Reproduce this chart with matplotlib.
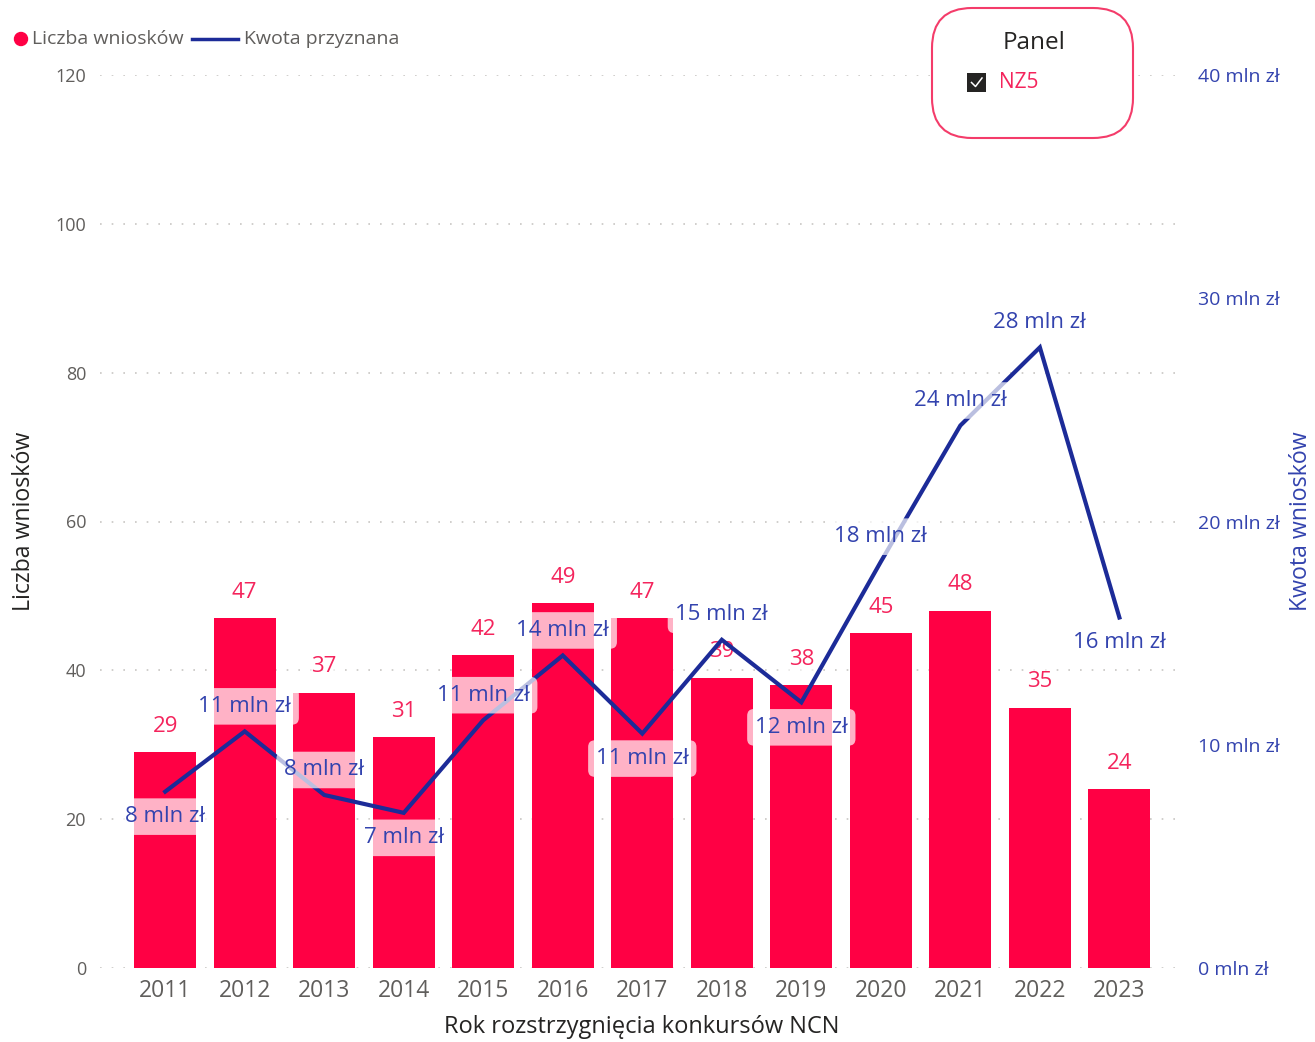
import matplotlib
matplotlib.use("Agg")
import matplotlib.pyplot as plt
from matplotlib.patches import FancyBboxPatch, Circle, Rectangle
from matplotlib.lines import Line2D
import numpy as np

plt.rcParams['font.family'] = ['Open Sans', 'DejaVu Sans']

years = ["2011", "2012", "2013", "2014", "2015", "2016", "2017",
         "2018", "2019", "2020", "2021", "2022", "2023"]
counts = [29, 47, 37, 31, 42, 49, 47, 39, 38, 45, 48, 35, 24]
amounts = [7.9, 10.6, 7.75, 6.95, 11.1, 14.0, 10.5, 14.7, 11.9, 18.2, 24.3, 27.8, 15.7]
amount_labels = ["8 mln zł", "11 mln zł", "8 mln zł", "7 mln zł", "11 mln zł",
                 "14 mln zł", "11 mln zł", "15 mln zł", "12 mln zł", "18 mln zł",
                 "24 mln zł", "28 mln zł", "16 mln zł"]
# label placement: +1 above point, -1 below point
label_side = [-1, 1, 1, -1, 1, 1, -1, 1, -1, 1, 1, 1, -1]
left_ticks = [0, 20, 40, 60, 80, 100, 120]
right_ticks = [0, 10, 20, 30, 40]
right_tick_labels = ["0 mln zł", "10 mln zł", "20 mln zł", "30 mln zł", "40 mln zł"]

BAR = '#FF0044'
PINK_TXT = '#F4245C'
LINE = '#1C2B98'
BLUE_TXT = '#3343AE'
GRAY = '#605E5C'

W, H = 1315, 1042
fig = plt.figure(figsize=(W / 100, H / 100), dpi=100)
fig.patch.set_facecolor('white')

def px_rect(x0, y0, x1, y1):
    return [x0 / W, 1 - y1 / H, (x1 - x0) / W, (y1 - y0) / H]

ax = fig.add_axes(px_rect(100, 75, 1183, 968))
ax2 = ax.twinx()

x = np.arange(len(years))
ax.bar(x, counts, width=0.78, color=BAR, zorder=2)
ax.set_ylim(0, 120)
ax.set_xlim(-0.82, 12.8)
ax.set_yticks(left_ticks)
ax.set_xticks(x)
ax.set_xticklabels(years)
ax.tick_params(axis='x', length=0, pad=8, labelsize=16.5, labelcolor=GRAY)
ax.tick_params(axis='y', length=0, pad=10, labelsize=13, labelcolor=GRAY)
ax.grid(axis='y', color='#C8C6C4', linestyle=(0, (1, 6)), linewidth=1.2, zorder=0)
ax.set_axisbelow(True)
for s in ax.spines.values():
    s.set_visible(False)
for s in ax2.spines.values():
    s.set_visible(False)

ax2.set_ylim(0, 40)
ax2.set_yticks(right_ticks)
ax2.set_yticklabels(right_tick_labels)
ax2.tick_params(axis='y', length=0, pad=11, labelsize=14, labelcolor=BLUE_TXT)

ax2.plot(x, amounts, color=LINE, linewidth=3, zorder=3, solid_joinstyle='miter')

# bar data labels
for xi, c in zip(x, counts):
    ax.annotate(str(c), xy=(xi, c), xytext=(0, 26), textcoords='offset pixels',
                ha='center', va='center', fontsize=16, color=PINK_TXT, zorder=5,
                bbox=dict(boxstyle='round,pad=0.15', fc='white', ec='none', alpha=0.6),
                annotation_clip=False)

# line data labels
ax2.set_zorder(ax.get_zorder() + 1)
ax2.patch.set_visible(False)
for xi, a, lab, side in zip(x, amounts, amount_labels, label_side):
    ax2.annotate(lab, xy=(xi, a), xytext=(0, 25 * side), textcoords='offset pixels',
                 ha='center', va='center', fontsize=16, color=BLUE_TXT, zorder=6,
                 bbox=dict(boxstyle='round,pad=0.35,rounding_size=0.3', fc='white',
                           ec='none', alpha=0.7),
                 annotation_clip=False)

# overlay in pixel coordinates for legend, panel box and titles
ov = fig.add_axes([0, 0, 1, 1], zorder=10)
ov.set_xlim(0, W)
ov.set_ylim(H, 0)
ov.axis('off')
ov.patch.set_visible(False)

# legend
ov.add_patch(Circle((21, 39), 6.5, color=BAR))
ov.text(32, 39, "Liczba wniosków", fontsize=14, color=GRAY, va='center', ha='left')
ov.add_line(Line2D([192, 238], [39, 39], color=LINE, linewidth=2.5))
ov.text(244, 39, "Kwota przyznana", fontsize=14, color=GRAY, va='center', ha='left')

# panel slicer box
ov.add_patch(FancyBboxPatch((932, 8), 201, 130,
                            boxstyle="round,pad=0,rounding_size=40",
                            fc='white', ec='#F43C6A', lw=1.5))
ov.text(1034, 43, "Panel", fontsize=17.5, color='#252423', ha='center', va='center')
ov.add_patch(Rectangle((967, 73), 19, 19, fc='#252423', ec='none'))
ov.add_line(Line2D([971.5, 975.5, 982], [82.5, 86.5, 78], color='white', linewidth=1.1))
ov.text(999, 83, "NZ5", fontsize=15, color=PINK_TXT, ha='left', va='center')

# axis titles
ov.text(24, 521, "Liczba wniosków", fontsize=16.7, color='#252423', rotation=90,
        ha='center', va='center')
ov.text(1301, 521, "Kwota wniosków", fontsize=16.7, color=BLUE_TXT, rotation=90,
        ha='center', va='center')
ov.text(642, 1027, "Rok rozstrzygnięcia konkursów NCN", fontsize=17, color='#252423',
        ha='center', va='center')

fig.savefig("out.png", dpi=100, facecolor='white')
